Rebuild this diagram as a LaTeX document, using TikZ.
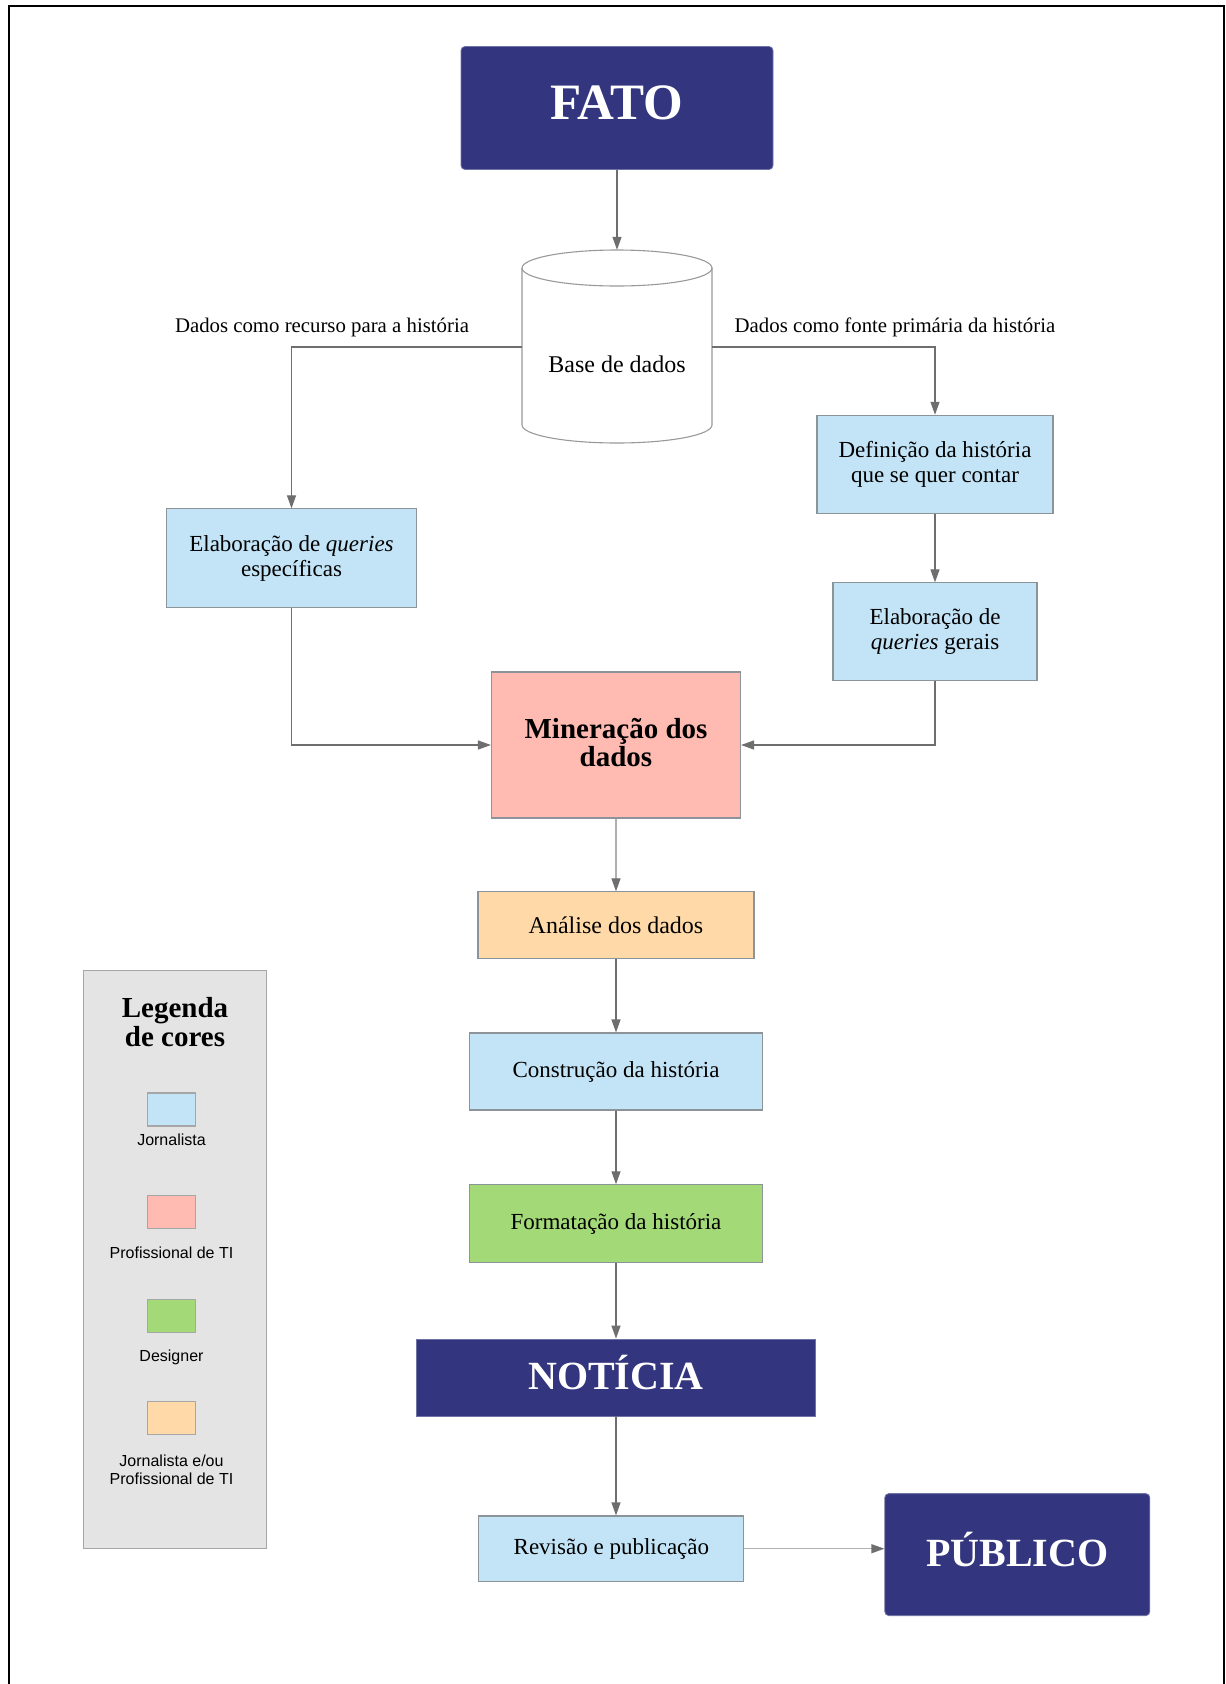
\documentclass[tikz,border=0pt]{standalone}
\usepackage{fontspec}
\setmainfont{Liberation Serif}
\newfontfamily\legendfont{Liberation Sans}
\usetikzlibrary{arrows.meta}
\definecolor{navy}{HTML}{33367F}
\definecolor{lblue}{HTML}{C3E4F6}
\definecolor{lpink}{HTML}{FFBAB1}
\definecolor{lorange}{HTML}{FFDAA8}
\definecolor{lgreen}{HTML}{A4D978}
\definecolor{legbg}{HTML}{E4E4E4}
\definecolor{boxborder}{HTML}{8C9499}
\definecolor{linegray}{HTML}{6E6E6E}
\definecolor{lightline}{HTML}{B0B0B0}
\newcommand{\upby}[2]{\raisebox{#1}[\height][\depth]{#2}}
\begin{document}
\begin{tikzpicture}[x=1pt,y=-1pt,
  conn/.style={draw=linegray, line width=1.2pt, -{Triangle[length=13pt,width=9pt,color=linegray]}},
  lconn/.style={draw=lightline, line width=1.2pt, -{Triangle[length=13pt,width=9pt,color=linegray]}},
  box/.style={draw=boxborder, line width=1.1pt, align=center, inner sep=0pt, font=\fontsize{23}{25}\selectfont},
  navybox/.style={fill=navy, draw=navy!70!white, line width=0.8pt, text=white, align=center, inner sep=0pt},
  swatch/.style={draw=gray!70, line width=1.4pt, minimum width=48pt, minimum height=33pt, inner sep=0pt},
  leglabel/.style={align=center, font=\legendfont\fontsize{16}{18.5}\selectfont, inner sep=0pt},
  edgelabel/.style={font=\fontsize{20.8}{22}\selectfont, inner sep=0pt}
]
\useasboundingbox (0,0) rectangle (1226,1684);
\draw[line width=2.5pt] (9,1690) -- (9,6) -- (1224,6) -- (1224,1690);

% top
\node[navybox, rounded corners=4pt, minimum width=312pt, minimum height=123pt, font=\bfseries\fontsize{51}{55}\selectfont] (fato) at (617,108) {\upby{5.5pt}{FATO}};

% database cylinder
\node[minimum width=190pt, minimum height=194pt, inner sep=0pt] (db) at (617,347) {};
\draw[draw=gray!80, line width=1.1pt, fill=white] (522,268) -- (522,425)
  arc[start angle=180, end angle=360, x radius=95pt, y radius=18pt]
  -- (712,268)
  arc[start angle=0, end angle=180, x radius=95pt, y radius=18pt] -- cycle;
\draw[draw=gray!80, line width=1.1pt] (522,268)
  arc[start angle=180, end angle=360, x radius=95pt, y radius=18pt];
\node[font=\fontsize{24}{26}\selectfont, inner sep=0pt] (dbtext) at (617,364) {Base de dados};

\node[edgelabel] (lblL) at (322,327) {Dados como recurso para a história};
\node[edgelabel] (lblR) at (895,327) {Dados como fonte primária da história};

% boxes
\node[box, fill=lblue, minimum width=250pt, minimum height=99pt] (esp) at (291.5,558.4) {Elaboração de \textit{queries}\\específicas};
\node[box, fill=lblue, minimum width=236pt, minimum height=98pt] (def) at (935,464.3) {Definição da história\\que se quer contar};
\node[box, fill=lblue, minimum width=204pt, minimum height=98pt] (ger) at (935,631.9) {Elaboração de\\\textit{queries} gerais};
\node[box, fill=lpink, minimum width=249pt, minimum height=146pt, font=\bfseries\fontsize{29}{29}\selectfont] (min) at (616,745) {\upby{-1.5pt}{\begin{tabular}{@{}c@{}}Mineração dos\\[-1pt]dados\end{tabular}}};
\node[box, fill=lorange, minimum width=276pt, minimum height=67pt, font=\fontsize{24}{26}\selectfont] (ana) at (616,925.4) {Análise dos dados};
\node[box, fill=lblue, minimum width=293pt, minimum height=77pt] (cons) at (616,1071.5) {Construção da história};
\node[box, fill=lgreen, minimum width=293pt, minimum height=78pt] (form) at (616,1223.8) {Formatação da história};
\node[navybox, minimum width=399pt, minimum height=77pt, font=\bfseries\fontsize{40}{44}\selectfont] (noticia) at (616,1377.5) {\upby{5pt}{NOTÍCIA}};
\node[box, fill=lblue, minimum width=265pt, minimum height=65.5pt] (rev) at (611.4,1548.7) {Revisão e publicação};
\node[navybox, rounded corners=4pt, minimum width=265pt, minimum height=122pt, font=\bfseries\fontsize{40}{44}\selectfont] (pub) at (1017.3,1554.6) {\upby{5pt}{PÚBLICO}};

% connectors
\draw[conn] (fato.south) -- (db.north);
\draw[conn] (db.west) -| (esp.north);
\draw[conn] (db.east) -| (def.north);
\draw[conn] (def.south) -- (ger.north);
\draw[conn] (esp.south) |- (min.west);
\draw[conn] (ger.south) |- (min.east);
\draw[lconn] (min.south) -- (ana.north);
\draw[conn] (ana.south) -- (cons.north);
\draw[conn] (cons.south) -- (form.north);
\draw[conn] (form.south) -- (noticia.north);
\draw[conn] (noticia.south) -- (noticia.south |- rev.north);
\draw[lconn] (rev.east) -- (rev.east -| pub.west);

% legend
\node[draw=gray!70, line width=1.1pt, fill=legbg, minimum width=182.6pt, minimum height=577.5pt, inner sep=0pt] (legend) at (175,1259.3) {};
\node[align=center, inner sep=0pt, font=\bfseries\fontsize{29}{29}\selectfont] (legtitle) at (175,1022) {Legenda\\de cores};
\node[swatch, fill=lblue] (sw1) at (171.2,1109.5) {};
\node[leglabel] (lab1) at (171.5,1140) {Jornalista};
\node[swatch, fill=lpink] (sw2) at (171.2,1212) {};
\node[leglabel] (lab2) at (171.5,1253) {Profissional de TI};
\node[swatch, fill=lgreen] (sw3) at (171.2,1316) {};
\node[leglabel] (lab3) at (171.5,1357) {Designer};
\node[swatch, fill=lorange] (sw4) at (171.2,1418) {};
\node[leglabel] (lab4) at (171.5,1470) {Jornalista e/ou\\Profissional de TI};
\end{tikzpicture}
\end{document}
